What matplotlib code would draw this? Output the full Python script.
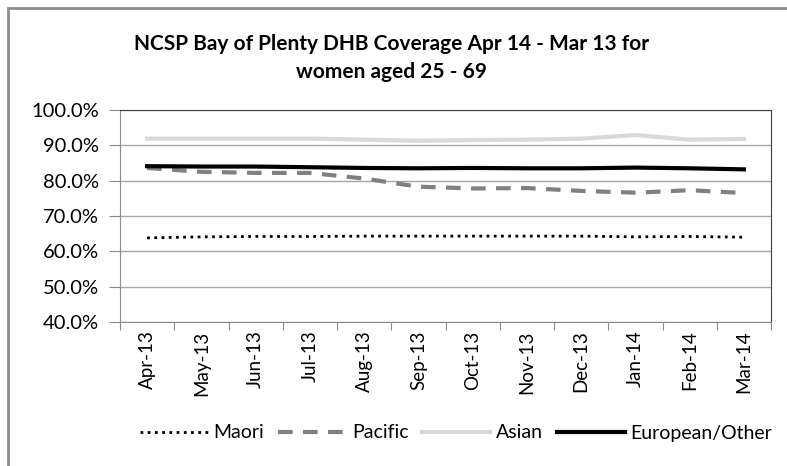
import matplotlib
matplotlib.use("Agg")
import matplotlib.pyplot as plt
from matplotlib.patches import Rectangle
from matplotlib.ticker import FuncFormatter

# Coverage values (%)
months = ["Apr-13", "May-13", "Jun-13", "Jul-13", "Aug-13", "Sep-13",
          "Oct-13", "Nov-13", "Dec-13", "Jan-14", "Feb-14", "Mar-14"]
maori = [63.8, 64.1, 64.2, 64.2, 64.3, 64.3, 64.3, 64.3, 64.3, 64.1, 64.2, 64.0]
pacific = [83.6, 82.5, 82.2, 82.2, 80.6, 78.3, 77.8, 77.9, 77.1, 76.6, 77.3, 76.5]
asian = [91.9, 91.9, 91.9, 91.9, 91.6, 91.3, 91.5, 91.6, 91.9, 92.9, 91.6, 91.8]
european = [84.1, 84.0, 84.0, 83.8, 83.6, 83.5, 83.6, 83.5, 83.5, 83.7, 83.5, 83.2]

plt.rcParams['font.family'] = ['Lato', 'DejaVu Sans']

fig = plt.figure(figsize=(7.87, 4.66), dpi=100)
ax = fig.add_axes([120 / 787, 1 - 322 / 466, 651 / 787, 212 / 466])

# outer chart border
fig.patches.append(Rectangle((8 / 787, -0.1), 1.2, 1 - 8 / 466 + 0.1,
                             transform=fig.transFigure, fill=False,
                             edgecolor='#8c8c8c', linewidth=2))

x = range(len(months))
ax.plot(x, maori, color='black', linestyle=(0, (1, 1.6)), linewidth=2, label='Maori')
ax.plot(x, pacific, color='#808080', linestyle=(0, (3.5, 2.5)), linewidth=3, label='Pacific')
ax.plot(x, asian, color='#d9d9d9', linewidth=3, label='Asian')
ax.plot(x, european, color='black', linewidth=3, label='European/Other')

ax.set_xlim(-0.5, len(months) - 0.5)
ax.set_ylim(40, 100)
ax.set_yticks(range(40, 101, 10))
ax.yaxis.set_major_formatter(FuncFormatter(lambda v, p: f'{v:.1f}%'))
ax.set_xticks([i - 0.5 for i in range(len(months) + 1)], minor=False)
ax.set_xticklabels([])
ax.set_xticks(list(x), minor=True)
ax.set_xticklabels(months, minor=True, rotation=90, fontsize=13.5)
ax.tick_params(axis='x', which='minor', length=0, pad=6)
ax.tick_params(axis='x', which='major', length=6, color='#8c8c8c')
ax.tick_params(axis='y', length=8, color='#8c8c8c', labelsize=14.5, pad=7)

ax.grid(True, axis='y', color='#a6a6a6', linewidth=1)
ax.set_axisbelow(True)
for s in ['left', 'bottom']:
    ax.spines[s].set_color('#8c8c8c')
for s in ['top', 'right']:
    ax.spines[s].set_color('#404040')

fig.text(392 / 787, 1 - 58 / 466, 'NCSP Bay of Plenty DHB Coverage Apr 14 - Mar 13 for\nwomen aged 25 - 69',
         ha='center', va='center', fontsize=15, fontweight='bold', linespacing=1.45)

fig.legend(loc='center', bbox_to_anchor=(456 / 787, 1 - 433 / 466), ncol=4,
           frameon=False, fontsize=14, handlelength=3.5, columnspacing=0.7,
           handletextpad=0.3)

fig.savefig('out.png', dpi=100)
